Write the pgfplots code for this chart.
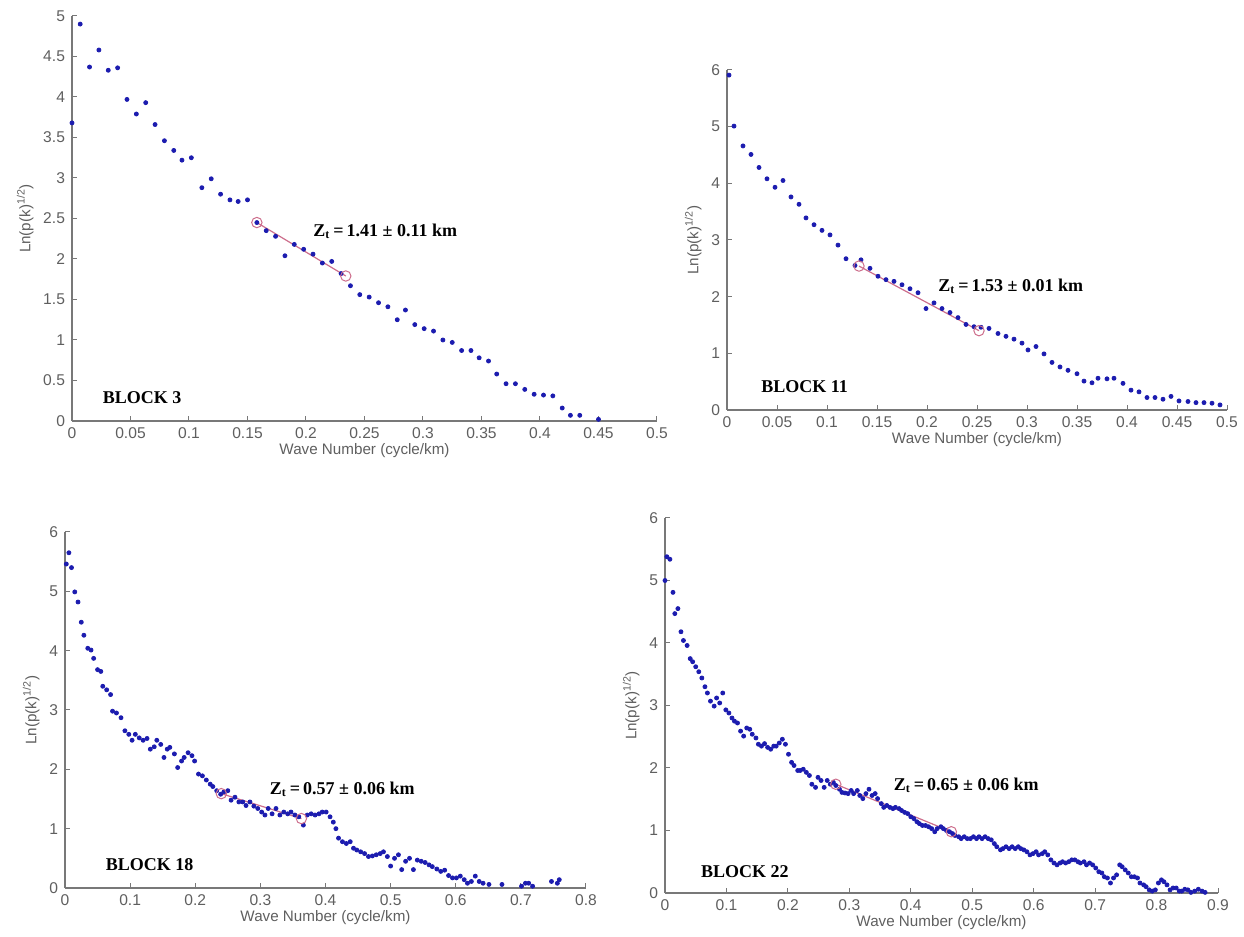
\documentclass[border=0pt]{standalone}
\usepackage{fontspec}
\setmainfont{Liberation Serif}
\setsansfont{Liberation Sans}
\usepackage{pgfplots}
\pgfplotsset{compat=1.18}

\definecolor{dotblue}{RGB}{28,28,175}
\definecolor{fitred}{RGB}{205,110,140}
\definecolor{axgray}{RGB}{120,120,120}
\definecolor{txtgray}{RGB}{95,95,95}

\tikzset{ann/.style={font=\rmfamily\bfseries\fontsize{9}{10}\selectfont, anchor=west, inner sep=0pt}}

\pgfplotsset{
  blk/.style={
    scale only axis, anchor=south west,
    axis lines*=left,
    axis line style={axgray, line width=0.6pt},
    tick align=inside, major tick length=2.5pt,
    tick style={axgray, line width=0.5pt},
    scaled ticks=false,
    /pgf/number format/assume math mode=true,
    ticklabel style={font=\sffamily\fontsize{7.8}{9}\selectfont, text=txtgray},
    xticklabel style={/pgf/number format/fixed, /pgf/number format/precision=2},
    yticklabel style={/pgf/number format/fixed, /pgf/number format/precision=1},
    xlabel={Wave Number (cycle/km)},
    ylabel={Ln(p(k)\textsuperscript{1/2})},
    label style={font=\sffamily\fontsize{7.6}{9}\selectfont, text=txtgray},
    xlabel style={yshift=4.5pt},
    ylabel style={yshift=-2pt},
    xmin=0, ymin=0, clip=false,
  },
  dots/.style={only marks, mark=*, mark size=1pt, mark options={draw=dotblue, fill=dotblue}},
  fitline/.style={fitred, line width=0.6pt, mark=o, mark size=2.6pt, mark options={fitred, line width=0.5pt}},
}

\begin{document}
\begin{tikzpicture}
\path[use as bounding box] (0pt,0pt) rectangle (622pt,468.5pt);

% BLOCK 3
\begin{axis}[blk, at={(36pt,258pt)}, width=292.5pt, height=202.5pt,
  xmax=0.5, ymax=5, xtick={0,0.05,...,0.5}, ytick={0,0.5,...,5}]
\addplot[dots] coordinates {
(0.000,3.68) (0.007,4.90) (0.015,4.37) (0.023,4.58) (0.031,4.33) (0.039,4.36)
(0.047,3.97) (0.055,3.79) (0.063,3.93) (0.071,3.66) (0.079,3.46) (0.087,3.34)
(0.094,3.22) (0.102,3.25) (0.111,2.88) (0.119,2.99) (0.127,2.80) (0.135,2.73)
(0.142,2.71) (0.150,2.73) (0.158,2.45) (0.166,2.35) (0.174,2.28) (0.182,2.04)
(0.190,2.18) (0.198,2.12) (0.206,2.06) (0.214,1.95) (0.222,1.97) (0.230,1.82)
(0.238,1.67) (0.246,1.56) (0.254,1.53) (0.262,1.46) (0.270,1.41) (0.278,1.25)
(0.285,1.37) (0.293,1.19) (0.301,1.14) (0.309,1.11) (0.317,1.00) (0.325,0.97)
(0.333,0.87) (0.341,0.87) (0.348,0.78) (0.356,0.74) (0.363,0.58) (0.371,0.46)
(0.379,0.46) (0.387,0.39) (0.395,0.33) (0.403,0.32) (0.411,0.31) (0.419,0.16)
(0.426,0.07) (0.434,0.07) (0.450,0.02)
};
\addplot[fitline] coordinates {(0.158,2.45) (0.234,1.79)};
\node[ann] at (axis cs:0.026,0.29) {BLOCK 3};
\node[ann] at (axis cs:0.206,2.34) {Z\textsubscript{t}\,=\,1.41 ± 0.11 km};
\end{axis}

% BLOCK 11
\begin{axis}[blk, at={(363.5pt,263.5pt)}, width=250pt, height=170pt,
  xmax=0.5, ymax=6, xtick={0,0.05,...,0.5}, ytick={0,1,...,6}]
\addplot[dots] coordinates {
(0.002,5.91) (0.007,5.01) (0.016,4.66) (0.024,4.51) (0.032,4.28) (0.040,4.08)
(0.048,3.93) (0.056,4.05) (0.064,3.76) (0.072,3.63) (0.079,3.39) (0.087,3.27)
(0.095,3.17) (0.103,3.09) (0.111,2.91) (0.119,2.67) (0.128,2.55) (0.134,2.65)
(0.143,2.50) (0.151,2.36) (0.159,2.30) (0.167,2.27) (0.175,2.21) (0.183,2.14)
(0.191,2.07) (0.199,1.79) (0.207,1.89) (0.215,1.79) (0.223,1.72) (0.231,1.63)
(0.239,1.51) (0.247,1.47) (0.254,1.46) (0.262,1.44) (0.271,1.35) (0.279,1.30)
(0.287,1.25) (0.295,1.18) (0.301,1.06) (0.309,1.12) (0.317,0.99) (0.325,0.84)
(0.333,0.76) (0.341,0.70) (0.350,0.64) (0.357,0.51) (0.365,0.48) (0.371,0.56)
(0.380,0.55) (0.387,0.56) (0.396,0.47) (0.404,0.35) (0.412,0.32) (0.420,0.22)
(0.428,0.22) (0.436,0.19) (0.444,0.24) (0.452,0.16) (0.461,0.15) (0.469,0.13)
(0.477,0.13) (0.485,0.12) (0.493,0.09)
};
\addplot[fitline] coordinates {(0.132,2.54) (0.252,1.40)};
\node[ann] at (axis cs:0.034,0.41) {BLOCK 11};
\node[ann] at (axis cs:0.211,2.18) {Z\textsubscript{t}\,=\,1.53 ± 0.01 km};
\end{axis}

% BLOCK 18
\begin{axis}[blk, at={(32.5pt,24.5pt)}, width=260.5pt, height=178pt,
  xmax=0.8, ymax=6, xtick={0,0.1,...,0.8}, ytick={0,1,...,6}]
\addplot[dots] coordinates {
(0.002,5.46) (0.006,5.65) (0.010,5.40) (0.015,4.99) (0.020,4.82) (0.025,4.48)
(0.029,4.26) (0.035,4.04) (0.040,4.01) (0.044,3.87) (0.050,3.68) (0.055,3.65)
(0.058,3.40) (0.064,3.34) (0.070,3.26) (0.073,2.98) (0.079,2.95) (0.086,2.87)
(0.092,2.65) (0.098,2.59) (0.103,2.49) (0.108,2.59) (0.114,2.53) (0.120,2.49)
(0.126,2.52) (0.131,2.34) (0.137,2.38) (0.141,2.49) (0.147,2.42) (0.152,2.20)
(0.157,2.34) (0.161,2.37) (0.168,2.26) (0.173,2.03) (0.179,2.14) (0.183,2.20)
(0.189,2.28) (0.195,2.23) (0.199,2.14) (0.205,1.92) (0.211,1.89) (0.217,1.82)
(0.223,1.75) (0.227,1.71) (0.233,1.64) (0.239,1.58) (0.244,1.62) (0.250,1.64)
(0.255,1.48) (0.261,1.53) (0.267,1.45) (0.273,1.45) (0.278,1.39) (0.284,1.45)
(0.290,1.38) (0.296,1.34) (0.302,1.28) (0.307,1.23) (0.312,1.34) (0.318,1.25)
(0.324,1.34) (0.330,1.23) (0.336,1.28) (0.342,1.25) (0.347,1.28) (0.353,1.23)
(0.359,1.20) (0.366,1.06) (0.372,1.23) (0.378,1.25) (0.384,1.23) (0.390,1.25)
(0.395,1.28) (0.401,1.28) (0.407,1.20) (0.412,1.11) (0.416,1.00) (0.420,0.84)
(0.426,0.78) (0.432,0.75) (0.438,0.78) (0.443,0.67) (0.448,0.64) (0.454,0.61)
(0.460,0.58) (0.466,0.53) (0.472,0.54) (0.478,0.56) (0.484,0.58) (0.489,0.61)
(0.495,0.53) (0.500,0.37) (0.506,0.50) (0.512,0.56) (0.517,0.31) (0.523,0.45)
(0.529,0.50) (0.535,0.31) (0.541,0.47) (0.547,0.45) (0.553,0.43) (0.559,0.39)
(0.564,0.36) (0.571,0.32) (0.577,0.28) (0.583,0.30) (0.589,0.21) (0.595,0.17)
(0.601,0.17) (0.607,0.20) (0.613,0.14) (0.618,0.08) (0.624,0.11) (0.630,0.20)
(0.636,0.11) (0.642,0.08) (0.651,0.06) (0.671,0.06) (0.701,0.03) (0.707,0.08)
(0.712,0.08) (0.718,0.03) (0.747,0.11) (0.756,0.08) (0.759,0.14)
};
\addplot[fitline] coordinates {(0.240,1.59) (0.363,1.17)};
\node[ann] at (axis cs:0.062,0.39) {BLOCK 18};
\node[ann] at (axis cs:0.314,1.67) {Z\textsubscript{t}\,=\,0.57 ± 0.06 km};
\end{axis}

% BLOCK 22
\begin{axis}[blk, at={(332.5pt,22pt)}, width=276.5pt, height=187.5pt,
  xmax=0.9, ymax=6, xtick={0,0.1,...,0.9}, ytick={0,1,...,6}]
\addplot[dots] coordinates {
(0.000,5.00) (0.003,5.38) (0.008,5.34) (0.013,4.81) (0.016,4.47) (0.021,4.55)
(0.026,4.18) (0.030,4.04) (0.036,3.96) (0.041,3.75) (0.045,3.70) (0.050,3.62)
(0.055,3.54) (0.060,3.44) (0.065,3.30) (0.069,3.20) (0.074,3.07) (0.080,2.99)
(0.084,3.12) (0.089,3.04) (0.094,3.20) (0.099,2.93) (0.104,2.88) (0.109,2.80)
(0.113,2.75) (0.118,2.72) (0.123,2.59) (0.128,2.51) (0.133,2.64) (0.138,2.62)
(0.142,2.54) (0.148,2.48) (0.152,2.38) (0.157,2.35) (0.162,2.39) (0.167,2.33)
(0.172,2.30) (0.177,2.35) (0.181,2.35) (0.186,2.40) (0.191,2.46) (0.196,2.38)
(0.201,2.22) (0.206,2.09) (0.210,2.04) (0.216,1.96) (0.220,1.96) (0.225,1.98)
(0.230,1.93) (0.235,1.88) (0.239,1.74) (0.245,1.69) (0.249,1.85) (0.254,1.80)
(0.259,1.69) (0.264,1.80) (0.269,1.74) (0.274,1.77) (0.278,1.72) (0.284,1.66)
(0.288,1.61) (0.293,1.60) (0.298,1.59) (0.303,1.64) (0.307,1.59) (0.313,1.64)
(0.317,1.56) (0.322,1.51) (0.327,1.59) (0.332,1.66) (0.337,1.56) (0.342,1.59)
(0.346,1.51) (0.352,1.43) (0.356,1.37) (0.361,1.40) (0.366,1.37) (0.371,1.35)
(0.375,1.37) (0.381,1.35) (0.385,1.32) (0.390,1.29) (0.395,1.27) (0.400,1.22)
(0.405,1.19) (0.410,1.14) (0.414,1.11) (0.419,1.08) (0.424,1.08) (0.429,1.06)
(0.434,1.03) (0.439,0.98) (0.443,1.03) (0.449,1.06) (0.453,1.03) (0.458,1.00)
(0.463,0.98) (0.468,0.95) (0.472,0.92) (0.478,0.90) (0.482,0.87) (0.487,0.90)
(0.492,0.87) (0.497,0.87) (0.502,0.90) (0.507,0.87) (0.511,0.90) (0.516,0.87)
(0.521,0.90) (0.526,0.87) (0.531,0.85) (0.536,0.79) (0.540,0.74) (0.546,0.69)
(0.550,0.71) (0.555,0.74) (0.560,0.71) (0.565,0.74) (0.570,0.71) (0.575,0.74)
(0.579,0.71) (0.584,0.69) (0.589,0.66) (0.594,0.61) (0.599,0.63) (0.604,0.66)
(0.608,0.61) (0.614,0.63) (0.618,0.66) (0.623,0.61) (0.628,0.53) (0.633,0.48)
(0.638,0.45) (0.643,0.48) (0.647,0.50) (0.652,0.48) (0.657,0.50) (0.662,0.53)
(0.667,0.53) (0.672,0.50) (0.676,0.48) (0.682,0.50) (0.686,0.45) (0.691,0.48)
(0.696,0.45) (0.701,0.40) (0.706,0.34) (0.711,0.32) (0.715,0.26) (0.720,0.24)
(0.725,0.16) (0.730,0.24) (0.735,0.29) (0.740,0.45) (0.744,0.42) (0.749,0.37)
(0.754,0.32) (0.759,0.26) (0.764,0.26) (0.769,0.24) (0.773,0.16) (0.779,0.13)
(0.783,0.10) (0.788,0.05) (0.793,0.03) (0.798,0.05) (0.803,0.16) (0.808,0.21)
(0.812,0.18) (0.817,0.13) (0.822,0.05) (0.827,0.08) (0.832,0.08) (0.837,0.03)
(0.841,0.03) (0.846,0.06) (0.851,0.05) (0.856,0.01) (0.862,0.03) (0.868,0.06)
(0.874,0.03) (0.879,0.01)
};
\addplot[fitline] coordinates {(0.278,1.74) (0.466,0.98)};
\node[ann] at (axis cs:0.058,0.34) {BLOCK 22};
\node[ann] at (axis cs:0.372,1.72) {Z\textsubscript{t}\,=\,0.65 ± 0.06 km};
\end{axis}
\end{tikzpicture}
\end{document}
